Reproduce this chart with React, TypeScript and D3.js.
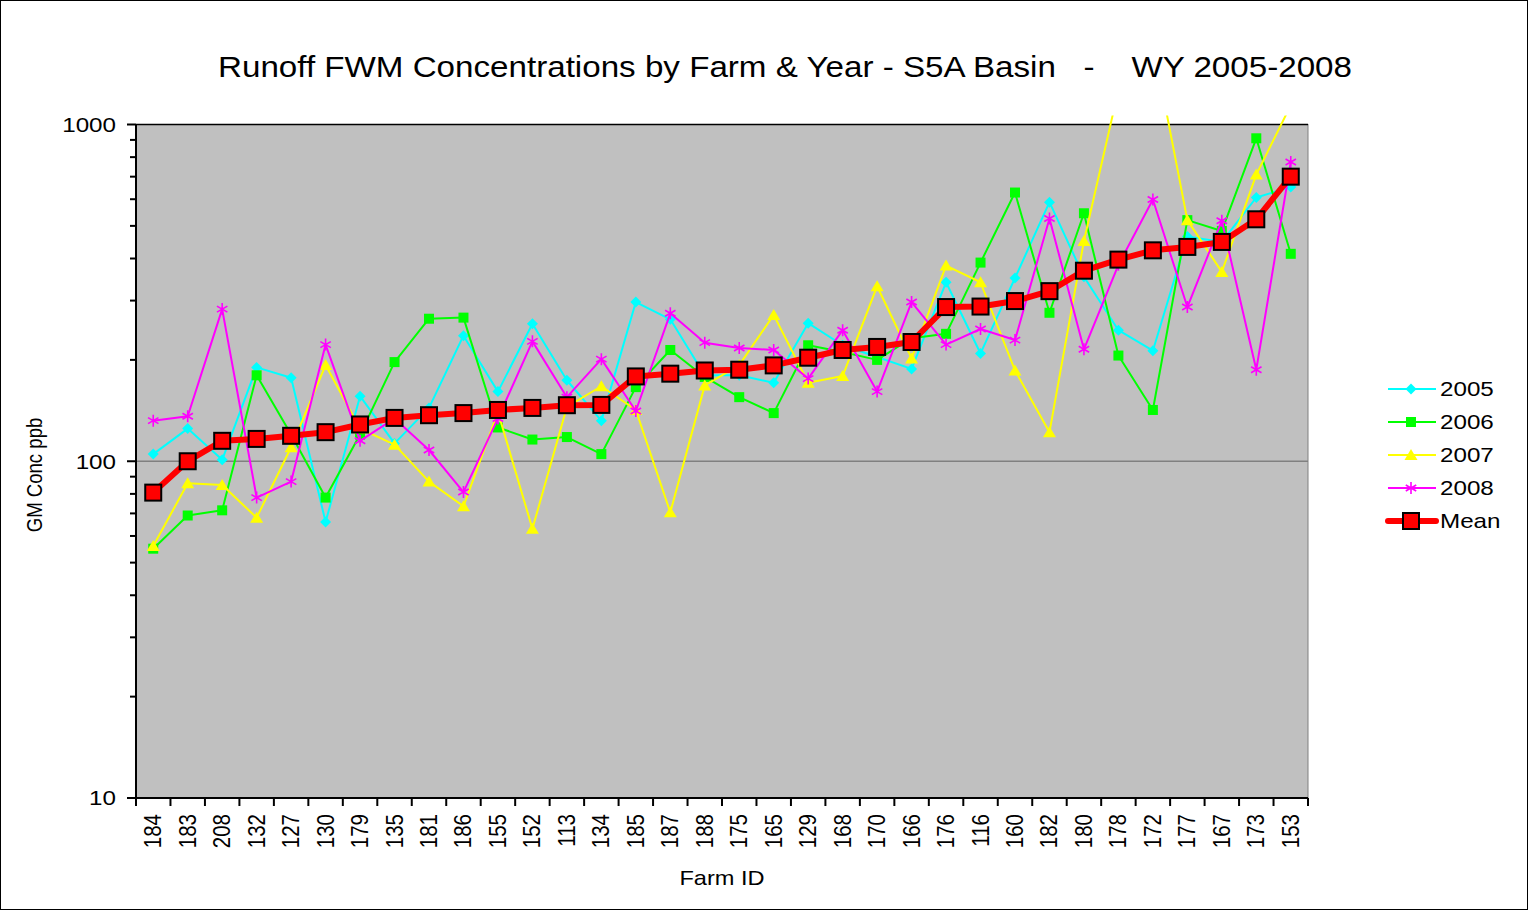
import * as d3 from "d3";
import { useEffect } from "react";

const farms = [
  "184", "183", "208", "132", "127", "130", "179", "135", "181", "186", "155", "152",
  "113", "134", "185", "187", "188", "175", "165", "129", "168", "170", "166", "176",
  "116", "160", "182", "180", "178", "172", "177", "167", "173", "153",
];

const y2005 = [
  105, 125, 101, 190, 177, 66, 156, 113, 144, 236, 161, 256,
  174, 132, 297, 264, 180, 180, 171, 257, 221, 204, 188, 340,
  209, 350, 588, 353, 245, 213, 465, 448, 607, 652,
];
const y2006 = [
  55, 69, 71.5, 180, 120, 78, 120, 197, 265, 267, 126, 116,
  118, 105, 166, 214, 178, 155, 139, 221, 211, 200, 232, 239,
  389, 628, 276, 545, 206, 142, 520, 483, 910, 413,
];
const y2007 = [
  56, 86, 85, 68, 110, 193, 125, 112, 87, 73.5, 140, 63,
  145, 167, 142, 70.5, 168, 193, 272, 171, 179, 331, 202, 381,
  340, 186, 122, 451, 1266, 1755, 520, 365, 710, 1141,
];
const y2008 = [
  132, 136, 283, 78, 87, 222, 115, 134, 108, 81, 134, 227,
  155, 201, 141, 275, 225, 217, 214, 176, 245, 161, 297, 222,
  247, 229, 526, 215, 383, 599, 287, 518, 187, 774,
];
const yMean = [
  80.7, 100, 115, 116.5, 119, 122, 128.6, 134.5, 137, 139, 142, 144,
  146.7, 147, 178.6, 182, 186, 187, 192.6, 203, 214, 218.5, 226, 287,
  288, 299, 320, 368, 397, 423, 433, 448, 523, 700,
];

const yTicks = [10, 100, 1000];

const W = 1529;
const H = 910;
const PLOT = { left: 136, right: 1308, top: 124.5, bottom: 798 };
const FONT = "'Liberation Sans', Arial, sans-serif";
// the original text is a bit wider than the font draws it
const STRETCH = 1.18;

type Marker = "diamond" | "square" | "triangle" | "star" | "mean";

const series: { name: string; values: number[]; color: string; marker: Marker }[] = [
  { name: "2005", values: y2005, color: "#00FFFF", marker: "diamond" },
  { name: "2006", values: y2006, color: "#00FF00", marker: "square" },
  { name: "2007", values: y2007, color: "#FFFF00", marker: "triangle" },
  { name: "2008", values: y2008, color: "#FF00FF", marker: "star" },
  { name: "Mean", values: yMean, color: "#FF0000", marker: "mean" },
];

function drawMarker(g: any, type: Marker, cx: number, cy: number, color: string) {
  if (type === "diamond") {
    const r = 5.5;
    g.append("path")
      .attr("d", `M${cx},${cy - r}L${cx + r},${cy}L${cx},${cy + r}L${cx - r},${cy}Z`)
      .attr("fill", color);
  } else if (type === "square") {
    g.append("rect")
      .attr("x", cx - 5)
      .attr("y", cy - 5)
      .attr("width", 10)
      .attr("height", 10)
      .attr("fill", color);
  } else if (type === "triangle") {
    g.append("path")
      .attr("d", `M${cx},${cy - 6}L${cx + 6.5},${cy + 5}L${cx - 6.5},${cy + 5}Z`)
      .attr("fill", color);
  } else if (type === "star") {
    const r = 6;
    const d = r * 0.87;
    g.append("path")
      .attr(
        "d",
        `M${cx},${cy - r}V${cy + r}M${cx - d},${cy - r / 2}L${cx + d},${cy + r / 2}M${cx - d},${cy + r / 2}L${cx + d},${cy - r / 2}`,
      )
      .attr("stroke", color)
      .attr("stroke-width", 1.6)
      .attr("fill", "none");
  } else {
    g.append("rect")
      .attr("x", cx - 8)
      .attr("y", cy - 8)
      .attr("width", 16)
      .attr("height", 16)
      .attr("fill", color)
      .attr("stroke", "#000")
      .attr("stroke-width", 2);
  }
}

export default function App() {
  useEffect(() => {
    document.body.style.margin = "0";
    const svg = d3.select("#chart");
    svg.selectAll("*").remove();

    const x = d3
      .scaleBand<string>()
      .domain(farms)
      .range([PLOT.left, PLOT.right]);
    const cx = (f: string) => x(f)! + x.bandwidth() / 2;
    const y = d3.scaleLog().domain([10, 1000]).range([PLOT.bottom, PLOT.top]);

    svg.append("rect").attr("x", 0.5).attr("y", 0.5).attr("width", W - 2).attr("height", H - 1)
      .attr("fill", "#fff").attr("stroke", "#000").attr("stroke-width", 1);

    // title
    svg.append("text")
      .attr("x", 218)
      .attr("y", 77)
      .attr("font-family", FONT)
      .attr("font-size", 30)
      .attr("textLength", 1134)
      .attr("lengthAdjust", "spacingAndGlyphs")
      .style("white-space", "pre")
      .text("Runoff FWM Concentrations by Farm & Year - S5A Basin   -    WY 2005-2008");

    // plot area
    svg.append("rect")
      .attr("x", PLOT.left)
      .attr("y", PLOT.top)
      .attr("width", PLOT.right - PLOT.left)
      .attr("height", PLOT.bottom - PLOT.top)
      .attr("fill", "#C0C0C0")
      .attr("stroke", "#808080")
      .attr("stroke-width", 1);

    // gridline
    svg.append("line")
      .attr("x1", PLOT.left).attr("x2", PLOT.right)
      .attr("y1", y(100)).attr("y2", y(100))
      .attr("stroke", "#808080").attr("stroke-width", 1.3);
    svg.append("line")
      .attr("x1", PLOT.left).attr("x2", PLOT.right)
      .attr("y1", PLOT.top).attr("y2", PLOT.top)
      .attr("stroke", "#000").attr("stroke-width", 1.3);

    // y axis
    const minor: number[] = [];
    for (const dec of [10, 100]) for (let k = 2; k <= 9; k++) minor.push(dec * k);
    svg.selectAll(".minor").data(minor).enter().append("line")
      .attr("x1", PLOT.left - 6).attr("x2", PLOT.left)
      .attr("y1", (d) => y(d)).attr("y2", (d) => y(d))
      .attr("stroke", "#000").attr("stroke-width", 2);
    svg.selectAll(".major").data(yTicks).enter().append("line")
      .attr("x1", PLOT.left - 9).attr("x2", PLOT.left)
      .attr("y1", (d) => y(d)).attr("y2", (d) => y(d))
      .attr("stroke", "#000").attr("stroke-width", 2);
    svg.selectAll(".ylab").data(yTicks).enter().append("text")
      .attr("transform", (d) => `translate(${PLOT.left - 20},${y(d)}) scale(${STRETCH},1)`)
      .attr("dy", "0.36em")
      .attr("text-anchor", "end")
      .attr("font-family", FONT)
      .attr("font-size", 20.5)
      .text((d) => String(d));
    svg.append("line")
      .attr("x1", PLOT.left).attr("x2", PLOT.left)
      .attr("y1", PLOT.top).attr("y2", PLOT.bottom)
      .attr("stroke", "#000").attr("stroke-width", 2);

    svg.append("text")
      .attr("transform", `translate(42,475) rotate(-90) scale(1,${STRETCH})`)
      .attr("text-anchor", "middle")
      .attr("font-family", FONT)
      .attr("font-size", 18.6)
      .text("GM Conc ppb");

    // x axis
    svg.append("line")
      .attr("x1", PLOT.left).attr("x2", PLOT.right)
      .attr("y1", PLOT.bottom).attr("y2", PLOT.bottom)
      .attr("stroke", "#000").attr("stroke-width", 2);
    const bounds = farms.map((f) => x(f)!).concat([PLOT.right]);
    svg.selectAll(".xtick").data(bounds).enter().append("line")
      .attr("x1", (d) => d).attr("x2", (d) => d)
      .attr("y1", PLOT.bottom).attr("y2", PLOT.bottom + 8)
      .attr("stroke", "#000").attr("stroke-width", 2);
    svg.selectAll(".xlab").data(farms).enter().append("text")
      .attr("transform", (d) => `translate(${cx(d) + 8},${PLOT.bottom + 16}) rotate(-90) scale(1,${STRETCH})`)
      .attr("text-anchor", "end")
      .attr("font-family", FONT)
      .attr("font-size", 20.5)
      .text((d) => d);
    svg.append("text")
      .attr("transform", `translate(${(PLOT.left + PLOT.right) / 2},885) scale(${STRETCH},1)`)
      .attr("text-anchor", "middle")
      .attr("font-family", FONT)
      .attr("font-size", 20)
      .text("Farm ID");

    // series
    svg.append("defs").append("clipPath").attr("id", "clip")
      .append("rect")
      .attr("x", PLOT.left).attr("y", PLOT.top - 9)
      .attr("width", PLOT.right - PLOT.left).attr("height", PLOT.bottom - PLOT.top + 9);
    const data = svg.append("g").attr("clip-path", "url(#clip)");
    series.forEach((s) => {
      const line = d3.line<number>()
        .x((_, i) => cx(farms[i]))
        .y((v) => y(v));
      data.append("path")
        .datum(s.values)
        .attr("d", line)
        .attr("fill", "none")
        .attr("stroke", s.color)
        .attr("stroke-width", s.marker === "mean" ? 6 : 2)
        .attr("stroke-linejoin", "round");
      const mg = data.append("g");
      s.values.forEach((v, i) => {
        if (v <= 1000) drawMarker(mg, s.marker, cx(farms[i]), y(v), s.color);
      });
    });

    // legend
    const leg = svg.append("g");
    series.forEach((s, i) => {
      const ly = 389 + i * 33;
      leg.append("line")
        .attr("x1", 1388).attr("x2", 1436)
        .attr("y1", ly).attr("y2", ly)
        .attr("stroke", s.color)
        .attr("stroke-width", s.marker === "mean" ? 6 : 2)
        .attr("stroke-linecap", s.marker === "mean" ? "round" : "butt");
      drawMarker(leg, s.marker, 1411, ly, s.color);
      leg.append("text")
        .attr("transform", `translate(1440,${ly}) scale(${STRETCH},1)`)
        .attr("dy", "0.36em")
        .attr("font-family", FONT)
        .attr("font-size", 20.5)
        .text(s.name);
    });
  }, []);

  return <svg id="chart" width={W} height={H} style={{ display: "block" }} />;
}
